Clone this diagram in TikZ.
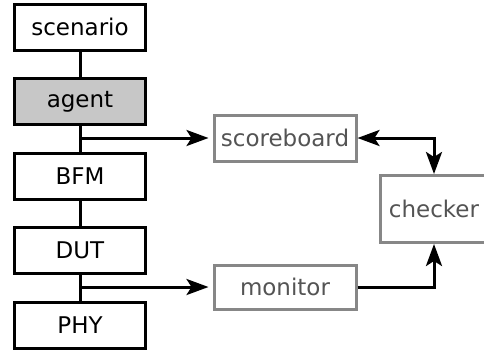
\documentclass[tikz,border=0pt]{standalone}
\usepackage{fontspec}
\setmainfont{DejaVu Sans}
\usetikzlibrary{positioning,arrows.meta}

\begin{document}
\begin{tikzpicture}[x=1pt, y=1pt,
  node distance=25.5pt,
  blk/.style={rectangle, draw=black, line width=3pt, fill=white,
              minimum width=131pt, minimum height=46pt,
              font=\fontsize{23}{27}\selectfont, text centered},
  gblk/.style={rectangle, draw=black!47, line width=3pt, fill=white,
               minimum width=142pt, minimum height=46pt, text=black!67,
               font=\fontsize{23}{27}\selectfont, text centered},
  lnk/.style={line width=3pt, draw=black},
  arr/.style={lnk, -{Stealth[length=22pt,width=16pt,inset=5pt]}},
  darr/.style={lnk, {Stealth[length=22pt,width=16pt,inset=5pt]}-{Stealth[length=22pt,width=16pt,inset=5pt]}}]
  \useasboundingbox (0,0) rectangle (484,-351);
  % the stack
  \node[blk] (SC) at (80,-27) {scenario};
  \node[blk, fill=black!22, below=of SC] (AG) {agent};
  \node[blk, below=of AG] (BFM) {BFM};
  \node[blk, below=of BFM] (DUT) {DUT};
  \node[blk, below=of DUT] (PHY) {PHY};
  % the checking side
  \node[gblk] (SB) at (285,-138) {scoreboard};
  \node[gblk, minimum height=44pt] (MON) at (285,-287) {monitor};
  \node[gblk, minimum width=108pt, minimum height=67pt] (CK) at (434,-209) {checker};
  \draw[lnk] (SC) -- (AG);
  \draw[lnk] (AG) -- (BFM);
  \draw[lnk] (BFM) -- (DUT);
  \draw[lnk] (DUT) -- (PHY);
  \draw[arr, shorten >=4pt] (AG.south |- SB.west) -- (SB.west);
  \draw[arr, shorten >=4pt] (DUT.south |- MON.west) -- (MON.west);
  \draw[darr] (SB.east) -| (CK.north);
  \draw[arr] (MON.east) -| (CK.south);
\end{tikzpicture}
\end{document}
